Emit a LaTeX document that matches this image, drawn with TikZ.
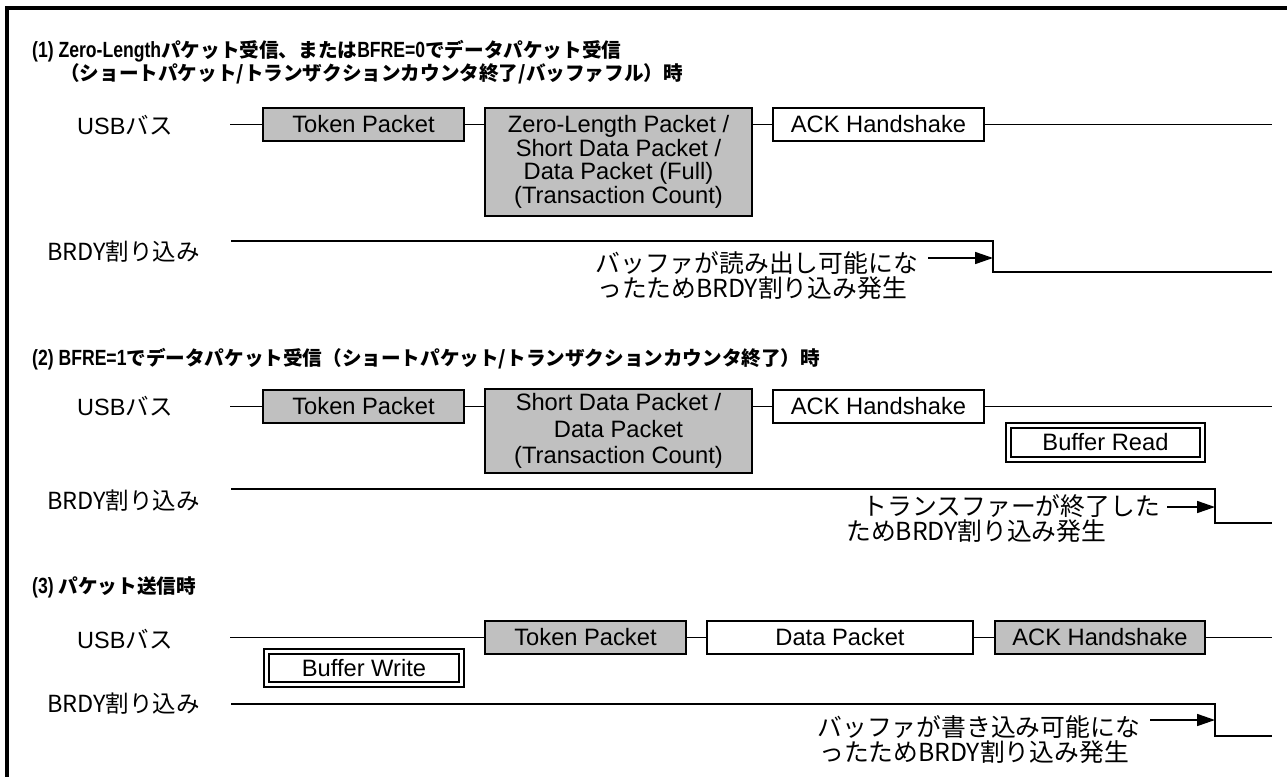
\documentclass[tikz,border=0pt]{standalone}
\usepackage{fontspec}
\setmainfont{Liberation Sans}
\newfontfamily\jpf{Noto Sans CJK JP}
\newfontfamily\tlat{Liberation Sans}[FakeStretch=0.8]
\usetikzlibrary{arrows.meta}
\definecolor{boxgray}{RGB}{192,192,192}
\newcommand\J[1]{{\jpf #1}}
\newcommand\TJ[1]{{\jpf\fontsize{19.6}{19.6}\selectfont #1}}
\begin{document}
\begin{tikzpicture}[x=1pt,y=-1pt,
  pkt/.style={draw, line width=1.6pt, inner sep=0pt, align=center,
    font=\fontsize{23.7}{23.7}\selectfont},
  gpkt/.style={pkt, fill=boxgray},
  wpkt/.style={pkt, fill=white},
  dblbox/.style={draw, double, double distance=3.2pt, line width=1.8pt, inner sep=0pt,
    font=\fontsize{23.7}{23.7}\selectfont},
  wire/.style={line width=1.6pt},
  framel/.style={line width=3.5pt},
  notel/.style={font=\jpf\fontsize{24.8}{24.8}\selectfont, inner sep=0pt},
  lbl/.style={anchor=base west, inner sep=0pt, font=\fontsize{23.5}{23.5}\selectfont},
  ttl/.style={anchor=base west, inner sep=0pt, font=\tlat\bfseries\fontsize{22}{22}\selectfont},
  arr/.style={line width=1.6pt, -{Triangle[length=18pt,width=12pt]}}
]
\useasboundingbox (0,0) rectangle (1287,776);
\fill[white] (0,0) rectangle (1287,776);
% frame
\coordinate (fbl) at (7,780);
\coordinate (ftl) at (7,8);
\coordinate (ftr) at (1292,8);
\draw[framel] (fbl) -- (ftl) -- (ftr);

% ---------- section 1 ----------
\node[ttl] (t1a) at (32,58) {(1) Zero-Length\TJ{パケット受信、または}BFRE=0\TJ{でデータパケット受信}};
\node[ttl] (t1b) at (60,81) {\TJ{（ショートパケット/トランザクションカウンタ終了/バッファフル）時}};
\node[lbl] (usb1) at (77,134) {USB\J{バス}};
\node[lbl] (brdy1) at (47,260) {\J{BRDY割り込み}};

\node[gpkt, minimum width=201pt, minimum height=33pt] (tok1) at (363.5,124.5) {Token Packet};
\node[gpkt, minimum width=267pt, minimum height=108pt] (zl1) at (618.5,162)
  {Zero-Length Packet /\\Short Data Packet /\\Data Packet (Full)\\(Transaction Count)};
\node[wpkt, minimum width=211pt, minimum height=33pt] (ack1) at (878.5,124.5) {ACK Handshake};
\coordinate (u1s) at (230,124.5);
\coordinate (u1e) at (1272,124.5);
\draw[wire] (u1s) -- (tok1.west);
\draw[wire] (tok1.east) -- (tok1.east -| zl1.west);
\draw[wire] (zl1.east |- ack1.west) -- (ack1.west);
\draw[wire] (ack1.east) -- (u1e);

\coordinate (b1s) at (231,241);
\coordinate (b1t) at (993,241);
\coordinate (b1b) at (993,272);
\coordinate (b1e) at (1272,272);
\draw[wire] (b1s) -- (b1t) -- (b1b) -- (b1e);
\node[notel, anchor=base east] (n1a) at (918,272) {バッファが読み出し可能にな};
\node[notel, anchor=base west] (n1b) at (597,297) {ったためBRDY割り込み発生};
\coordinate (a1s) at (928,258);
\coordinate (a1e) at (993,258);
\draw[arr] (a1s) -- (a1e);

% ---------- section 2 ----------
\node[ttl] (t2) at (32,365) {(2) BFRE=1\TJ{でデータパケット受信（ショートパケット/トランザクションカウンタ終了）時}};
\node[lbl] (usb2) at (77,415) {USB\J{バス}};
\node[lbl] (brdy2) at (47,509) {\J{BRDY割り込み}};

\node[gpkt, minimum width=201pt, minimum height=33pt] (tok2) at (363.5,406.5) {Token Packet};
\node[gpkt, minimum width=267pt, minimum height=84pt, font=\fontsize{23.7}{26.5}\selectfont] (sd2) at (618.5,431)
  {Short Data Packet /\\Data Packet\\(Transaction Count)};
\node[wpkt, minimum width=211pt, minimum height=33pt] (ack2) at (878.5,406.5) {ACK Handshake};
\node[dblbox, minimum width=194pt, minimum height=34pt] (br2) at (1105.5,442.5) {Buffer Read};
\coordinate (u2s) at (230,406.5);
\coordinate (u2e) at (1272,406.5);
\draw[wire] (u2s) -- (tok2.west);
\draw[wire] (tok2.east) -- (tok2.east -| sd2.west);
\draw[wire] (sd2.east |- ack2.west) -- (ack2.west);
\draw[wire] (ack2.east) -- (u2e);

\coordinate (b2s) at (231,489);
\coordinate (b2t) at (1215,489);
\coordinate (b2b) at (1215,523);
\coordinate (b2e) at (1272,523);
\draw[wire] (b2s) -- (b2t) -- (b2b) -- (b2e);
\node[notel, anchor=base east] (n2a) at (1160,515) {トランスファーが終了した};
\node[notel, anchor=base west] (n2b) at (846,540) {ためBRDY割り込み発生};
\coordinate (a2s) at (1167,507);
\coordinate (a2e) at (1215,507);
\draw[arr] (a2s) -- (a2e);

% ---------- section 3 ----------
\node[ttl] (t3) at (32,593) {(3) \TJ{パケット送信時}};
\node[lbl] (usb3) at (77,648) {USB\J{バス}};
\node[lbl] (brdy3) at (47,712) {\J{BRDY割り込み}};

\node[dblbox, minimum width=195pt, minimum height=33pt] (bw3) at (364,668) {Buffer Write};
\node[gpkt, minimum width=201pt, minimum height=33pt] (tok3) at (585.5,637.5) {Token Packet};
\node[wpkt, minimum width=266pt, minimum height=33pt] (dp3) at (840,637.5) {Data Packet};
\node[gpkt, minimum width=210pt, minimum height=33pt] (ack3) at (1100,637.5) {ACK Handshake};
\coordinate (u3s) at (230,637.5);
\coordinate (u3e) at (1272,637.5);
\draw[wire] (u3s) -- (tok3.west);
\draw[wire] (tok3.east) -- (dp3.west);
\draw[wire] (dp3.east) -- (ack3.west);
\draw[wire] (ack3.east) -- (u3e);

\coordinate (b3s) at (231,704);
\coordinate (b3t) at (1215,704);
\coordinate (b3b) at (1215,736);
\coordinate (b3e) at (1272,736);
\draw[wire] (b3s) -- (b3t) -- (b3b) -- (b3e);
\node[notel, anchor=base east] (n3a) at (1140,736) {バッファが書き込み可能にな};
\node[notel, anchor=base west] (n3b) at (819,761) {ったためBRDY割り込み発生};
\coordinate (a3s) at (1150,720);
\coordinate (a3e) at (1215,720);
\draw[arr] (a3s) -- (a3e);
\end{tikzpicture}
\end{document}
